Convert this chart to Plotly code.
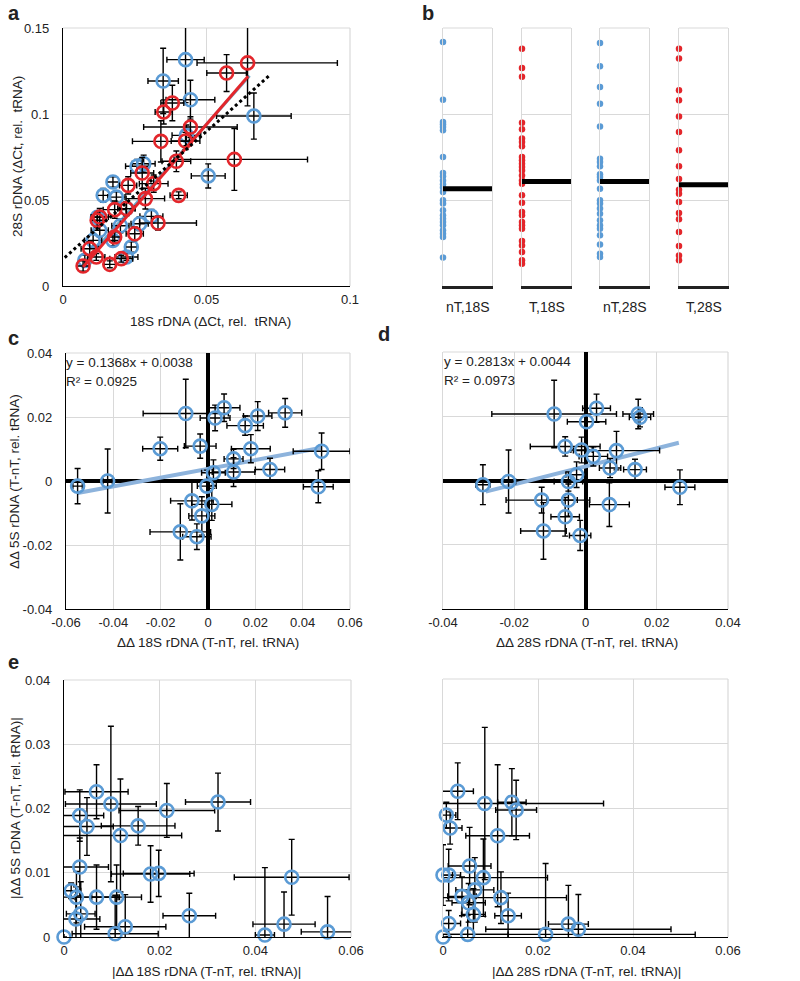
import plotly.graph_objects as go

W, H = 800, 981
FONT = "Liberation Sans, Arial, sans-serif"
BLUE = "#5b9bd5"
RED = "#e3262b"
TREND_BLUE = "#8db3dc"
GRID = "#d9d9d9"

# ---------------- Panel a : 18S vs 28S (dCt rel. tRNA) ----------------
a_nT_x = [0.0427, 0.0349, 0.0444, 0.0665, 0.0506, 0.0258, 0.0281, 0.0174, 0.0140, 0.0186, 0.0221,
          0.0308, 0.0267, 0.0238, 0.0221, 0.0174, 0.0128, 0.0076, 0.0430, 0.0105, 0.0120, 0.0200]
a_nT_y = [0.1316, 0.1192, 0.1083, 0.0988, 0.0640, 0.0696, 0.0711, 0.0605, 0.0527, 0.0517, 0.0450,
          0.0405, 0.0362, 0.0227, 0.0169, 0.0265, 0.0324, 0.0149, 0.0876, 0.0265, 0.0400, 0.0350]
a_nT_ex = [0.0065, 0.0053, 0.0085, 0.0130, 0.0059, 0.0040, 0.0040, 0.0020, 0.0020, 0.0030, 0.0030,
           0.0040, 0.0030, 0.0020, 0.0040, 0.0020, 0.0030, 0.0020, 0.0050, 0.0030, 0.0020, 0.0030]
a_nT_ey = [0.0250, 0.0190, 0.0113, 0.0134, 0.0070, 0.0040, 0.0050, 0.0030, 0.0040, 0.0030, 0.0040,
           0.0040, 0.0040, 0.0030, 0.0020, 0.0030, 0.0040, 0.0030, 0.0060, 0.0040, 0.0030, 0.0040]

a_T_x = [0.0643, 0.0570, 0.0381, 0.0351, 0.0444, 0.0341, 0.0427, 0.0597, 0.0395, 0.0276, 0.0227, 0.0316, 0.0287,
         0.0403, 0.0180, 0.0221, 0.0128, 0.0119, 0.0331, 0.0250, 0.0180, 0.0093, 0.0116, 0.0203, 0.0163, 0.0070]
a_T_y = [0.1297, 0.1238, 0.1064, 0.1012, 0.0924, 0.0841, 0.0843, 0.0736, 0.0725, 0.0657, 0.0585, 0.0595, 0.0508,
         0.0527, 0.0444, 0.0450, 0.0401, 0.0382, 0.0366, 0.0304, 0.0285, 0.0217, 0.0169, 0.0159, 0.0126, 0.0116]
a_T_ex_minus = [0.0176, 0.0069, 0.0040, 0.0030, 0.0163, 0.0099, 0.0050, 0.0210, 0.0050, 0.0040, 0.0030, 0.0050, 0.0067,
                0.0030, 0.0040, 0.0030, 0.0030, 0.0020, 0.0064, 0.0030, 0.0020, 0.0030, 0.0030, 0.0040, 0.0020, 0.0020]
a_T_ex_plus = [0.0313, 0.0069, 0.0040, 0.0030, 0.0163, 0.0099, 0.0050, 0.0255, 0.0050, 0.0040, 0.0030, 0.0050, 0.0067,
               0.0030, 0.0040, 0.0030, 0.0030, 0.0020, 0.0134, 0.0030, 0.0020, 0.0030, 0.0030, 0.0040, 0.0020, 0.0020]
a_T_ey = [0.0250, 0.0107, 0.0103, 0.0070, 0.0060, 0.0120, 0.0050, 0.0180, 0.0060, 0.0090, 0.0050, 0.0050, 0.0060,
          0.0020, 0.0050, 0.0040, 0.0050, 0.0040, 0.0040, 0.0040, 0.0030, 0.0040, 0.0020, 0.0020, 0.0020, 0.0030]

# trend lines of panel a (slope, intercept, x-extent)
a_fit_nT = dict(slope=1.88, intercept=0.0000, x=[0.0075, 0.0650])
a_fit_T = dict(slope=1.93, intercept=-0.0025, x=[0.0070, 0.0645])
a_fit_ref = dict(slope=1.485, intercept=0.0156, x=[0.0006, 0.0723])

# ---------------- Panel b : distributions ----------------
b_categories = ["nT,18S", "T,18S", "nT,28S", "T,28S"]
b_colors = [BLUE, RED, BLUE, RED]
b_values = [
    [0.1419, 0.1083, 0.0953, 0.0940, 0.0924, 0.0905, 0.0750, 0.0657, 0.0638, 0.0614, 0.0591, 0.0572,
     0.0546, 0.0498, 0.0479, 0.0440, 0.0411, 0.0391, 0.0372, 0.0353, 0.0324, 0.0304, 0.0285, 0.0165],
    [0.1380, 0.1267, 0.1217, 0.0949, 0.0911, 0.0857, 0.0837, 0.0812, 0.0750, 0.0731, 0.0711, 0.0692,
     0.0672, 0.0643, 0.0614, 0.0595, 0.0527, 0.0484, 0.0430, 0.0411, 0.0372, 0.0353, 0.0333, 0.0262,
     0.0236, 0.0198, 0.0149, 0.0130],
    [0.1413, 0.1277, 0.1157, 0.1060, 0.0928, 0.0740, 0.0721, 0.0696, 0.0649, 0.0634, 0.0614, 0.0566,
     0.0498, 0.0479, 0.0450, 0.0420, 0.0382, 0.0353, 0.0333, 0.0295, 0.0242, 0.0188, 0.0169],
    [0.1380, 0.1322, 0.1138, 0.1080, 0.0986, 0.0895, 0.0789, 0.0696, 0.0622, 0.0560, 0.0537, 0.0488,
     0.0424, 0.0388, 0.0314, 0.0233, 0.0178, 0.0149],
]
b_means = [0.0566, 0.0607, 0.0607, 0.0589]

# ---------------- Panel c : ddCt 18S vs 5S ----------------
c_x = [-0.0551, -0.0424, -0.0094, 0.0068, 0.0030, 0.0157, 0.0210, 0.0326, -0.0202, -0.0033, 0.0181, 0.0480,
       0.0108, 0.0262, 0.0108, 0.0023, 0.0466, -0.0068, 0.0016, -0.0026, -0.0117, -0.0047, -0.0005]
c_y = [-0.0016, 0.0000, 0.0211, 0.0229, 0.0197, 0.0173, 0.0203, 0.0213, 0.0101, 0.0109, 0.0101, 0.0093,
       0.0069, 0.0036, 0.0028, 0.0026, -0.0018, -0.0062, -0.0073, -0.0109, -0.0159, -0.0174, -0.0016]
c_ex = [0.0020, 0.0020, 0.0180, 0.0067, 0.0063, 0.0077, 0.0060, 0.0070, 0.0074, 0.0067, 0.0082, 0.0120,
        0.0040, 0.0062, 0.0090, 0.0050, 0.0063, 0.0090, 0.0085, 0.0055, 0.0128, 0.0060, 0.0040]
c_ey = [0.0055, 0.0100, 0.0107, 0.0043, 0.0040, 0.0030, 0.0045, 0.0045, 0.0036, 0.0038, 0.0044, 0.0057,
        0.0030, 0.0035, 0.0045, 0.0040, 0.0050, 0.0060, 0.0050, 0.0060, 0.0088, 0.0040, 0.0050]
c_fit = dict(slope=0.1368, intercept=0.0038, r2=0.0925, x=[-0.0551, 0.0480])

# ---------------- Panel d : ddCt 28S vs 5S ----------------
d_x = [-0.0088, 0.0031, 0.0148, 0.0153, 0.0003, -0.0057, -0.0011, 0.0087, 0.0022, 0.0139, 0.0069,
       -0.0025, -0.0288, -0.0216, -0.0048, 0.0265, -0.0123, -0.0048, 0.0067, -0.0057, -0.0118, -0.0015]
d_y = [0.0207, 0.0225, 0.0207, 0.0197, 0.0183, 0.0106, 0.0095, 0.0093, 0.0075, 0.0034, 0.0039,
       0.0018, -0.0013, -0.0003, -0.0003, -0.0021, -0.0061, -0.0061, -0.0075, -0.0113, -0.0157, -0.0171]
d_ex = [0.0175, 0.0039, 0.0043, 0.0030, 0.0054, 0.0098, 0.0030, 0.0121, 0.0040, 0.0032, 0.0030,
        0.0030, 0.0020, 0.0020, 0.0040, 0.0042, 0.0100, 0.0060, 0.0056, 0.0040, 0.0064, 0.0030]
d_ey = [0.0105, 0.0044, 0.0046, 0.0030, 0.0020, 0.0030, 0.0040, 0.0060, 0.0030, 0.0032, 0.0030,
        0.0040, 0.0062, 0.0098, 0.0030, 0.0054, 0.0040, 0.0050, 0.0068, 0.0060, 0.0088, 0.0047]
d_fit = dict(slope=0.2813, intercept=0.0044, r2=0.0973, x=[-0.0280, 0.0262])

# ---------------- Panel e (left): |dd 18S| vs |dd 5S| ----------------
e1_x = [0.0000, 0.0068, 0.0098, 0.0322, 0.0215, 0.0033, 0.0048, 0.0155, 0.0118, 0.0033, 0.0181, 0.0198,
        0.0476, 0.0015, 0.0068, 0.0110, 0.0026, 0.0262, 0.0035, 0.0025, 0.0128, 0.0107, 0.0420, 0.0460, 0.0551]
e1_y = [0.0000, 0.0226, 0.0207, 0.0210, 0.0197, 0.0189, 0.0172, 0.0173, 0.0158, 0.0109, 0.0098, 0.0099,
        0.0093, 0.0072, 0.0062, 0.0062, 0.0062, 0.0033, 0.0036, 0.0028, 0.0016, 0.0005, 0.0003, 0.0020, 0.0008]
e1_ex = [0.0000, 0.0066, 0.0095, 0.0068, 0.0100, 0.0050, 0.0055, 0.0077, 0.0128, 0.0060, 0.0082, 0.0074,
         0.0120, 0.0020, 0.0045, 0.0052, 0.0090, 0.0055, 0.0030, 0.0050, 0.0085, 0.0090, 0.0020, 0.0065, 0.0055]
e1_ey = [0.0000, 0.0042, 0.0121, 0.0045, 0.0042, 0.0040, 0.0045, 0.0030, 0.0088, 0.0045, 0.0044, 0.0036,
         0.0059, 0.0012, 0.0050, 0.0050, 0.0040, 0.0035, 0.0050, 0.0050, 0.0050, 0.0060, 0.0105, 0.0050, 0.0055]

# ---------------- Panel e (right): |dd 28S| vs |dd 5S| ----------------
e2_x = [0.0031, 0.0088, 0.0145, 0.0154, 0.0007, 0.0015, 0.0115, 0.0000, 0.0012, 0.0056, 0.0085, 0.0122,
        0.0040, 0.0067, 0.0054, 0.0137, 0.0064, 0.0012, 0.0264, 0.0285, 0.0216, 0.0052, 0.0000]
e2_y = [0.0226, 0.0207, 0.0209, 0.0197, 0.0189, 0.0169, 0.0157, 0.0096, 0.0096, 0.0110, 0.0092, 0.0061,
        0.0063, 0.0073, 0.0053, 0.0033, 0.0035, 0.0021, 0.0020, 0.0012, 0.0004, 0.0004, 0.0000]
e2_ex = [0.0033, 0.0250, 0.0030, 0.0043, 0.0020, 0.0025, 0.0067, 0.0020, 0.0025, 0.0045, 0.0135, 0.0138,
         0.0030, 0.0040, 0.0035, 0.0028, 0.0025, 0.0025, 0.0042, 0.0195, 0.0315, 0.0085, 0.0000]
e2_ey = [0.0044, 0.0118, 0.0052, 0.0046, 0.0020, 0.0025, 0.0110, 0.0047, 0.0040, 0.0060, 0.0060, 0.0040,
         0.0030, 0.0050, 0.0030, 0.0035, 0.0040, 0.0020, 0.0060, 0.0054, 0.0110, 0.0030, 0.0000]


# ================= figure =================
def dom_x(x0, x1):
    return [x0 / W, x1 / W]


def dom_y(top, bottom):
    return [1 - bottom / H, 1 - top / H]


def err(arr, minus=None):
    d = dict(type="data", array=arr, color="black", thickness=1.4, width=3, visible=True)
    if minus is not None:
        d["symmetric"] = False
        d["arrayminus"] = minus
    return d


fig = go.Figure()
TICKFONT = dict(family=FONT, size=13, color="#222")


def scatter_open(x, y, ex, ey, color, xa, ya, ex_minus=None):
    fig.add_trace(go.Scatter(
        x=x, y=y, mode="markers", xaxis=xa, yaxis=ya,
        marker=dict(symbol="circle-open", size=13, color=color, line=dict(width=2.6, color=color)),
        error_x=err(ex, ex_minus), error_y=err(ey), cliponaxis=False, showlegend=False, hoverinfo="skip"))


def fit_line(fit, color, xa, ya, width=3, dash="solid"):
    xs = fit["x"]
    ys = [fit["slope"] * v + fit["intercept"] for v in xs]
    fig.add_trace(go.Scatter(x=xs, y=ys, mode="lines", xaxis=xa, yaxis=ya,
                             line=dict(color=color, width=width, dash=dash), showlegend=False, hoverinfo="skip"))


# Panel a
fit_line(a_fit_nT, "#6aa8c9", "x", "y", width=3)
scatter_open(a_nT_x, a_nT_y, a_nT_ex, a_nT_ey, BLUE, "x", "y")
scatter_open(a_T_x, a_T_y, a_T_ex_plus, a_T_ey, RED, "x", "y", ex_minus=a_T_ex_minus)
fit_line(a_fit_T, RED, "x", "y", width=3)
fit_line(a_fit_ref, "black", "x", "y", width=3, dash="dot")

# Panel b
for i, (vals, col, m) in enumerate(zip(b_values, b_colors, b_means)):
    xa, ya = f"x{i+2}", f"y{i+2}"
    fig.add_trace(go.Scatter(x=[0] * len(vals), y=vals, mode="markers", xaxis=xa, yaxis=ya,
                             marker=dict(size=6.5, color=col), cliponaxis=False, showlegend=False,
                             hoverinfo="skip"))
    fig.add_trace(go.Scatter(x=[0, 1], y=[m, m], mode="lines", xaxis=xa, yaxis=ya,
                             line=dict(color="black", width=5), showlegend=False, hoverinfo="skip"))

# Panel c
fit_line(c_fit, TREND_BLUE, "x6", "y6", width=4)
scatter_open(c_x, c_y, c_ex, c_ey, BLUE, "x6", "y6")
# Panel d
fit_line(d_fit, TREND_BLUE, "x7", "y7", width=4)
scatter_open(d_x, d_y, d_ex, d_ey, BLUE, "x7", "y7")
# Panel e
scatter_open(e1_x, e1_y, e1_ex, e1_ey, BLUE, "x8", "y8")
scatter_open(e2_x, e2_y, e2_ex, e2_ey, BLUE, "x9", "y9")


def xaxis(dom, rng, tv, tt, anchor, labels=True, grid=True, zeroline=False, linew=1.2):
    return dict(domain=dom, range=rng, tickvals=tv, ticktext=tt, anchor=anchor, showgrid=grid,
                gridcolor=GRID, gridwidth=1, showline=True, linecolor="black", linewidth=linew,
                zeroline=zeroline, zerolinecolor="black", zerolinewidth=4, ticks="",
                showticklabels=labels, tickfont=TICKFONT, ticklabelstandoff=1, automargin=False)


def yaxis(dom, rng, tv, tt, anchor, labels=True, grid=True, zeroline=False, linecolor="black", mirror=False):
    return dict(domain=dom, range=rng, tickvals=tv, ticktext=tt, anchor=anchor, showgrid=grid,
                gridcolor=GRID, gridwidth=1, showline=True, linecolor=linecolor, linewidth=1.2,
                mirror=mirror, zeroline=zeroline, zerolinecolor="black", zerolinewidth=4, ticks="",
                showticklabels=labels, tickfont=TICKFONT, ticklabelstandoff=10, automargin=False)


layout = dict(width=W, height=H, margin=dict(l=0, r=0, t=0, b=0, pad=0, autoexpand=False),
              template="none", paper_bgcolor="white", plot_bgcolor="white", showlegend=False)

# a
layout["xaxis"] = xaxis(dom_x(63, 350), [0, 0.1], [0, 0.05, 0.1], ["0", "0.05", "0.1"], "y")
layout["yaxis"] = yaxis(dom_y(28, 286), [0, 0.15], [0, 0.05, 0.1, 0.15], ["0", "0.05", "0.1", "0.15"], "x")

# b
b_px = [(443, 492), (522, 571), (600, 649), (679, 728)]
for i, (x0, x1) in enumerate(b_px):
    k = i + 2
    layout[f"xaxis{k}"] = dict(domain=dom_x(x0, x1), range=[0, 1], anchor=f"y{k}", showgrid=False,
                               showline=True, linecolor="#222", linewidth=2.5, zeroline=False,
                               showticklabels=False, ticks="", automargin=False)
    layout[f"yaxis{k}"] = dict(domain=dom_y(28, 286), range=[0, 0.15], anchor=f"x{k}",
                               tickvals=[0.05, 0.1], showgrid=True, gridcolor=GRID, showline=True,
                               linecolor=GRID, linewidth=1, mirror=True, zeroline=False,
                               showticklabels=False, ticks="", automargin=False)

# c
cx_t = [-0.06, -0.04, -0.02, 0, 0.02, 0.04, 0.06]
cy_t = [-0.04, -0.02, 0, 0.02, 0.04]
layout["xaxis6"] = xaxis(dom_x(66, 350), [-0.06, 0.06], cx_t, ["-0.06", "-0.04", "-0.02", "0", "0.02", "0.04", "0.06"],
                         "y6", zeroline=True)
layout["yaxis6"] = yaxis(dom_y(353, 609), [-0.04, 0.04], cy_t, ["-0.04", "-0.02", "0", "0.02", "0.04"], "x6",
                         zeroline=True)
# d
dx_t = [-0.04, -0.02, 0, 0.02, 0.04]
layout["xaxis7"] = xaxis(dom_x(443, 728), [-0.04, 0.04], dx_t, ["-0.04", "-0.02", "0", "0.02", "0.04"],
                         "y7", zeroline=True)
layout["yaxis7"] = yaxis(dom_y(352, 609), [-0.04, 0.04], cy_t, None, "x7", labels=False, zeroline=True,
                         linecolor=GRID)
# e
ex_t = [0, 0.02, 0.04, 0.06]
ey_t = [0, 0.01, 0.02, 0.03, 0.04]
layout["xaxis8"] = xaxis(dom_x(64, 351), [0, 0.06], ex_t, ["0", "0.02", "0.04", "0.06"], "y8")
layout["yaxis8"] = yaxis(dom_y(680, 937), [0, 0.04], ey_t, ["0", "0.01", "0.02", "0.03", "0.04"], "x8")
layout["xaxis9"] = xaxis(dom_x(443, 728), [0, 0.06], ex_t, ["0", "0.02", "0.04", "0.06"], "y9")
layout["yaxis9"] = yaxis(dom_y(679, 937), [0, 0.04], ey_t, None, "x9", labels=False, linecolor=GRID)

# grey frame (top / right edges) for the scatter panels
shapes = []
for k in ["", "6", "7", "8", "9"]:
    xr, yr = f"x{k} domain", f"y{k} domain"
    shapes.append(dict(type="line", xref=xr, yref=yr, x0=0, x1=1, y0=1, y1=1, line=dict(color=GRID, width=1.2), layer="below"))
    shapes.append(dict(type="line", xref=xr, yref=yr, x0=1, x1=1, y0=0, y1=1, line=dict(color=GRID, width=1.2), layer="below"))
for k in range(2, 6):
    shapes.append(dict(type="line", xref=f"x{k} domain", yref=f"y{k} domain", x0=0, x1=1, y0=1, y1=1,
                       line=dict(color=GRID, width=1), layer="below"))
layout["shapes"] = shapes


def ann(text, px, py, size=13.5, bold=False, angle=0, xanchor="center", yanchor="middle"):
    return dict(text=f"<b>{text}</b>" if bold else text, x=px / W, y=1 - py / H, xref="paper", yref="paper",
                showarrow=False, textangle=angle, xanchor=xanchor, yanchor=yanchor,
                font=dict(family=FONT, size=size, color="#222"))


annotations = [
    ann("a", 6, 13, 20, True, xanchor="left"),
    ann("b", 420, 13, 20, True, xanchor="left"),
    ann("c", 6, 338, 20, True, xanchor="left"),
    ann("d", 376, 334, 20, True, xanchor="left"),
    ann("e", 6, 662, 20, True, xanchor="left"),
    ann("18S rDNA (ΔCt, rel.  tRNA)", 210, 321),
    ann("28S rDNA (ΔCt, rel.  tRNA)", 17, 157, angle=-90),
    ann("ΔΔ 18S rDNA (T-nT, rel. tRNA)", 208, 642),
    ann("ΔΔ 5S rDNA (T-nT, rel. tRNA)", 15, 482, angle=-90),
    ann("ΔΔ 28S rDNA (T-nT, rel. tRNA)", 587, 642),
    ann("|ΔΔ 18S rDNA (T-nT, rel. tRNA)|", 207, 971),
    ann("|ΔΔ 5S rDNA (T-nT, rel. tRNA)|", 15, 808, angle=-90),
    ann("|ΔΔ 28S rDNA (T-nT, rel. tRNA)|", 586, 971),
    ann(f"y = {c_fit['slope']}x + {c_fit['intercept']}", 64, 362, xanchor="left"),
    ann(f"R² = {c_fit['r2']}", 64, 381, xanchor="left"),
    ann(f"y = {d_fit['slope']}x + {d_fit['intercept']}", 442, 361, xanchor="left"),
    ann(f"R² = {d_fit['r2']}", 442, 380, xanchor="left"),
]
for (x0, x1), cat in zip(b_px, b_categories):
    annotations.append(ann(cat, (x0 + x1) / 2, 307, 14))
layout["annotations"] = annotations

fig.update_layout(**layout)
# remove the browser's default 8px page margin so figure pixels line up with the page
fig.write_html("out.html", config={"displayModeBar": False, "staticPlot": True},
               post_script="document.body.style.margin='0px';document.body.style.overflow='hidden';")
